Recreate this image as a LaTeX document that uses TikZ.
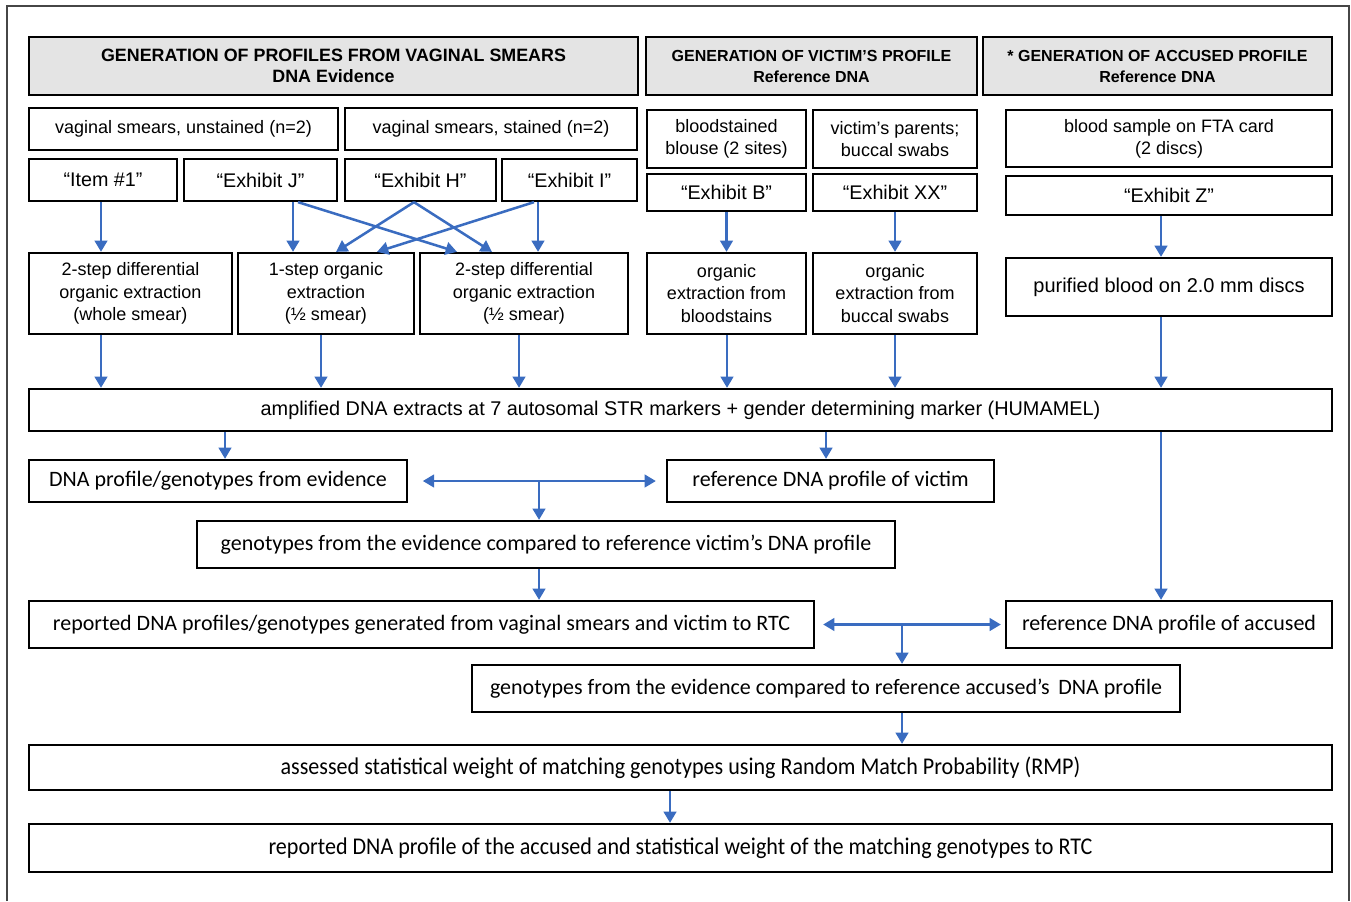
\documentclass[tikz,border=0pt]{standalone}
\usepackage{fontspec}
\setmainfont{Liberation Sans}
\newfontfamily\calfont{Carlito}
\newfontfamily\calnarrow[FakeStretch=0.92]{Carlito}
\usetikzlibrary{arrows.meta}

\begin{document}
\begin{tikzpicture}[x=0.75pt, y=-0.75pt]

	\definecolor{my_blue}{RGB}{58,108,192}
\definecolor{my_gray_light}{RGB}{228,228,228}
\definecolor{my_gray_dark}{RGB}{70,70,70}

\tikzset{dims/.style 2 args={minimum width=#1*0.75pt, minimum height=#2*0.75pt}}
\tikzstyle{block} = [rectangle, draw=black, line width=1.7pt, inner sep=0pt, align=center, font=\fontsize{13.5}{17}\selectfont]
\tikzstyle{head} = [block, line width=2pt, fill=my_gray_light, font=\bfseries\fontsize{12}{15.75}\selectfont]
\tikzstyle{exbox} = [block, font=\fontsize{14.8}{17}\selectfont]
\tikzstyle{result} = [block, font=\calfont\fontsize{16.5}{19}\selectfont]
\tikzstyle{narrow} = [block, font=\calnarrow\fontsize{18}{20}\selectfont]
\tikzstyle{line} = [draw=my_blue, line width=1.9pt]
\tikzstyle{arr} = [line, -{Triangle[length=8.5pt, width=9.5pt]}]
\tikzstyle{darr} = [line, {Triangle[length=8.5pt, width=9.5pt]}-{Triangle[length=8.5pt, width=9.5pt]}]

	\useasboundingbox (0,0) rectangle (1351,901);
	\draw [my_gray_dark, line width=0.8pt] (7,901) |- (1349,6) -- (1349,901);

	\node [head, dims={609}{58}, font=\bfseries\fontsize{13.4}{15.75}\selectfont] (hd_vag) at (333.5,66) {GENERATION OF PROFILES FROM VAGINAL SMEARS\\DNA Evidence};
	\node [head, dims={331}{58}] (hd_vic) at (811.5,66) {GENERATION OF VICTIM’S PROFILE\\Reference DNA};
	\node [head, dims={349}{58}] (hd_acc) at (1157.5,66) {* GENERATION OF ACCUSED PROFILE\\Reference DNA};

	\node [block, dims={309}{42}] (unstained) at (183.5,129) {vaginal smears, unstained (n=2)};
	\node [block, dims={292}{42}] (stained) at (491,129) {vaginal smears, stained (n=2)};
	\node [block, dims={159}{58}, font=\fontsize{13.5}{16.5}\selectfont] (blouse) at (726.5,139) {bloodstained\\blouse (2 sites)};
	\node [block, dims={164}{58}, font=\fontsize{13.5}{16.5}\selectfont] (parents) at (895,139) {victim’s parents;\\buccal swabs};
	\node [block, dims={326}{57}, font=\fontsize{13.5}{16.5}\selectfont] (fta) at (1169,138.5) {blood sample on FTA card\\(2 discs)};

	\node [exbox, dims={148}{42}] (item1) at (103,180) {“Item \#1”};
	\node [exbox, dims={153}{42}] (ex_j) at (260.5,180) {“Exhibit J”};
	\node [exbox, dims={151}{42}] (ex_h) at (420.5,180) {“Exhibit H”};
	\node [exbox, dims={135}{42}] (ex_i) at (569.5,180) {“Exhibit I”};
	\node [exbox, dims={159}{37}] (ex_b) at (726.5,192.5) {“Exhibit B”};
	\node [exbox, dims={164}{37}] (ex_xx) at (895,192.5) {“Exhibit XX”};
	\node [exbox, dims={326}{39}] (ex_z) at (1169,195.5) {“Exhibit Z”};

	\node [block, dims={203}{81}] (ext_whole) at (130.5,293.5) {2-step differential\\organic extraction\\(whole smear)};
	\node [block, dims={176}{81}] (ext_one) at (326,293.5) {1-step organic\\extraction\\(½ smear)};
	\node [block, dims={208}{81}] (ext_two) at (524,293.5) {2-step differential\\organic extraction\\(½ smear)};
	\node [block, dims={159}{81}] (ext_blood) at (726.5,293.5) {organic\\extraction from\\bloodstains};
	\node [block, dims={164}{81}] (ext_buccal) at (895,293.5) {organic\\extraction from\\buccal swabs};
	\node [block, dims={326}{58}, font=\fontsize{15}{18}\selectfont] (discs) at (1169,287) {purified blood on 2.0 mm discs};

	\node [block, dims={1303}{42}, font=\fontsize{14.9}{18}\selectfont] (ampl) at (680.5,410) {amplified DNA extracts at 7 autosomal STR markers + gender determining marker (HUMAMEL)};

	\node [result, dims={378}{42}] (evid) at (218,481) {DNA profile/genotypes from evidence};
	\node [result, dims={327}{42}] (ref_vic) at (830.5,481) {reference DNA profile of victim};
	\node [result, dims={698}{47}] (cmp_vic) at (546,544.5) {genotypes from the evidence compared to reference victim’s DNA profile};
	\node [result, dims={785}{47}] (rep_vic) at (421.5,624.5) {reported DNA profiles/genotypes generated from vaginal smears and victim to RTC};
	\node [result, dims={326}{47}] (ref_acc) at (1169,624.5) {reference DNA profile of accused};
	\node [result, dims={708}{47}] (cmp_acc) at (826,688.5) {genotypes from the evidence compared to reference accused’s\, DNA profile};
	\node [narrow, dims={1303}{45}] (rmp) at (680.5,767.5) {assessed statistical weight of matching genotypes using Random Match Probability (RMP)};
	\node [narrow, dims={1303}{48}] (final) at (680.5,848) {reported DNA profile of the accused and statistical weight of the matching genotypes to RTC};

	\coordinate (c_vic) at (539,481);
	\coordinate (c_acc) at (902,624);

	\path [arr] (item1.south -| 101,0) -- (ext_whole.north -| 101,0);
	\path [arr] (ex_j.south -| 293,0) -- (ext_one.north -| 293,0);
	\path [arr] (ex_j.south -| 298,0) -- (ext_two.north -| 457,0);
	\path [arr] (ex_h.south -| 414,0) -- (ext_one.north -| 336,0);
	\path [arr] (ex_h.south -| 414,0) -- (ext_two.north -| 492,0);
	\path [arr] (ex_i.south -| 538,0) -- (ext_two.north -| 538,0);
	\path [arr] (ex_i.south -| 534,0) -- (ext_one.north -| 377,0);

	\path [arr] (ex_b) -- (ext_blood.north -| ex_b);
	\path [arr] (ex_xx) -- (ext_buccal.north -| ex_xx);
	\path [arr] (ex_z.south -| 1161,0) -- (discs.north -| 1161,0);

	\path [arr] (ext_whole.south -| 101,0) -- (ampl.north -| 101,0);
	\path [arr] (ext_one.south -| 321,0) -- (ampl.north -| 321,0);
	\path [arr] (ext_two.south -| 519,0) -- (ampl.north -| 519,0);
	\path [arr] (ext_blood.south -| 727,0) -- (ampl.north -| 727,0);
	\path [arr] (ext_buccal.south -| 895,0) -- (ampl.north -| 895,0);
	\path [arr] (discs.south -| 1161,0) -- (ampl.north -| 1161,0);

	\path [arr] (ampl.south -| 225,0) -- (evid.north -| 225,0);
	\path [arr] (ampl.south -| 826,0) -- (ref_vic.north -| 826,0);
	\path [arr] (ampl.south -| 1161,0) -- (ref_acc.north -| 1161,0);

	\path [darr] ([xshift=11pt]evid.east) -- ([xshift=-7.5pt]ref_vic.west);
	\path [arr] (c_vic) -- (c_vic |- cmp_vic.north);
	\path [arr] (cmp_vic.south -| c_vic) -- (rep_vic.north -| c_vic);

	\path [darr] ([xshift=6pt]rep_vic.east) -- ([xshift=-3pt]ref_acc.west);
	\path [arr] (c_acc) -- (c_acc |- cmp_acc.north);
	\path [arr] (cmp_acc.south -| c_acc) -- (rmp.north -| c_acc);
	\path [arr] (rmp.south -| 670,0) -- (final.north -| 670,0);

\end{tikzpicture}
\end{document}
